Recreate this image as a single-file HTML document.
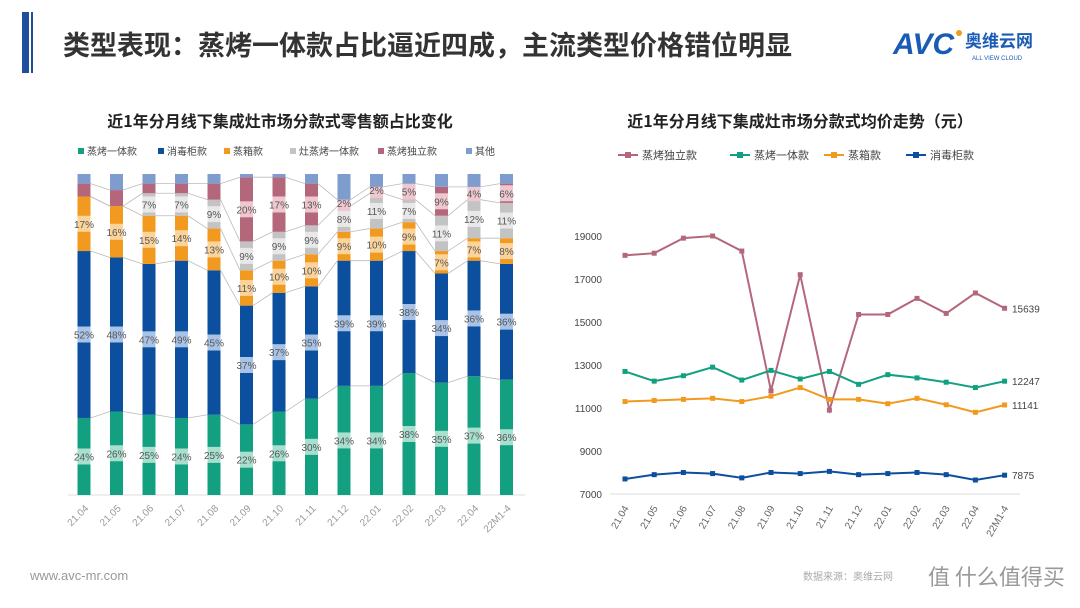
<!DOCTYPE html>
<html><head><meta charset="utf-8"><style>
body{margin:0;width:1080px;height:608px;background:#fff;overflow:hidden;font-family:"Liberation Sans","Noto Sans CJK SC",sans-serif;}
svg{position:absolute;left:0;top:0}
</style></head><body>
<svg id="s" width="1080" height="608" xmlns="http://www.w3.org/2000/svg" font-family="Liberation Sans, Noto Sans CJK SC, sans-serif"></svg>
<script>
(function(){
const s=document.getElementById('s');let h='';
h+='<rect x="22" y="12" width="7" height="61" fill="#1f4e9c"/><rect x="31" y="12" width="2" height="61" fill="#1f4e9c"/>';
h+='<text x="63" y="55" font-size="27" font-weight="bold" fill="#333" font-family="Noto Sans CJK SC, sans-serif">类型表现：蒸烤一体款占比逼近四成，主流类型价格错位明显</text>';
h+='<text x="893" y="54" font-size="30" font-weight="bold" fill="#1a5bb5" font-style="italic">AVC</text><circle cx="959" cy="33" r="3" fill="#f29a1f"/>';
h+='<text x="965" y="47" font-size="17" font-weight="bold" fill="#1a5bb5" font-family="Noto Sans CJK SC, sans-serif">奥维云网</text>';
h+='<text x="972" y="60" font-size="6" fill="#1a5bb5">ALL VIEW CLOUD</text>';
h+='<text x="30" y="580" font-size="13" fill="#999">www.avc-mr.com</text>';
h+='<text x="803" y="580" font-size="10" fill="#aaa" font-family="Noto Sans CJK SC, sans-serif">数据来源：奥维云网</text>';
h+='<text x="928" y="585" font-size="22" fill="#999" font-family="Noto Sans CJK SC, sans-serif">值 什么值得买</text>';
h+='<text x="280" y="127" font-size="16" font-weight="bold" fill="#222" text-anchor="middle" font-family="Noto Sans CJK SC, sans-serif">近1年分月线下集成灶市场分款式零售额占比变化</text>';
const cols=['#13a081','#0b4f9e','#f29a1f','#c3c3c3','#b4677a','#7f9ccf'];
const light=['#a9dfcf','#a9c3e6','#fbd49b','#e8e8e8','#eec7cf','#c7d4ee'];
const names=['蒸烤一体款','消毒柜款','蒸箱款','灶蒸烤一体款','蒸烤独立款','其他'];
let lx=78;[80,66,66,88,88,40].forEach((w,i)=>{h+=`<rect x="${lx}" y="148" width="6" height="6" fill="${cols[i]}"/><text x="${lx+9}" y="155" font-size="10" fill="#444" font-family="Noto Sans CJK SC, sans-serif">${names[i]}</text>`;lx+=w;});
const D=[[24,52,17,0,4,3],[26,48,16,0,5,5],[25,47,15,7,3,3],[24,49,14,7,3,3],[25,45,13,9,5,3],[22,37,11,9,20,1],[26,37,10,9,17,1],[30,35,10,9,13,3],[34,39,9,8,2,8],[34,39,10,11,2,4],[38,38,9,7,5,3],[35,34,7,11,9,4],[37,36,7,12,4,4],[36,36,8,11,6,3]];
const X=['21.04','21.05','21.06','21.07','21.08','21.09','21.10','21.11','21.12','22.01','22.02','22.03','22.04','22M1-4'];
const tp=174,bot=495,H=bot-tp,bw=13;
h+=`<line x1="68" y1="${bot}" x2="525" y2="${bot}" stroke="#ddd"/>`;
let prev=null;
D.forEach((d,i)=>{const cx=84+i*32.5;let y=bot;const bounds=[];
 d.forEach((v,j)=>{const hh=v/100*H;y-=hh;h+=`<rect x="${cx-bw/2}" y="${y}" width="${bw}" height="${hh}" fill="${cols[j]}"/>`;
  if(j<5&&v>=2&&!(j===4&&v<9&&i<8)){const ly=y+hh/2;h+=`<rect x="${cx-bw/2}" y="${ly-8}" width="${bw}" height="16" fill="${light[j]}"/><text x="${cx}" y="${ly+4}" font-size="10" fill="#555" text-anchor="middle">${v}%</text>`;}
  bounds.push(y);});
 if(prev){for(let k=0;k<5;k++)h+=`<line x1="${prev.x+bw/2}" y1="${prev.b[k]}" x2="${cx-bw/2}" y2="${bounds[k]}" stroke="#bbb" stroke-width="0.8"/>`;}
 prev={x:cx,b:bounds};
 h+=`<text transform="translate(${cx+5},${bot+14}) rotate(-45)" font-size="10" fill="#999" text-anchor="end">${X[i]}</text>`;
});
h+='<text x="800" y="127" font-size="16" font-weight="bold" fill="#222" text-anchor="middle" font-family="Noto Sans CJK SC, sans-serif">近1年分月线下集成灶市场分款式均价走势（元）</text>';
const lc=['#b4677a','#13a081','#f29a1f','#0b4f9e'];const ln=['蒸烤独立款','蒸烤一体款','蒸箱款','消毒柜款'];
let rx=618;[112,94,82,70].forEach((w,i)=>{h+=`<line x1="${rx}" y1="155" x2="${rx+20}" y2="155" stroke="${lc[i]}" stroke-width="2"/><rect x="${rx+7}" y="152" width="6" height="6" fill="${lc[i]}"/><text x="${rx+24}" y="159" font-size="11" fill="#444" font-family="Noto Sans CJK SC, sans-serif">${ln[i]}</text>`;rx+=w;});
const yv=v=>494-(v-7000)/2000*43;
for(let v=7000;v<=19000;v+=2000)h+=`<text x="602" y="${yv(v)+4}" font-size="10" fill="#444" text-anchor="end">${v}</text>`;
h+=`<line x1="610" y1="494" x2="1020" y2="494" stroke="#ddd"/>`;
const L=[[18100,18200,18900,19000,18300,11800,17200,10900,15350,15350,16100,15400,16350,15639],
[12700,12250,12500,12900,12300,12750,12350,12700,12100,12550,12400,12200,11950,12247],
[11300,11350,11400,11450,11300,11550,11950,11400,11400,11200,11450,11150,10800,11141],
[7700,7900,8000,7950,7750,8000,7950,8050,7900,7950,8000,7900,7650,7875]];
const xr=i=>625+i*29.2;
L.forEach((a,k)=>{h+=`<polyline fill="none" stroke="${lc[k]}" stroke-width="2" points="${a.map((v,i)=>xr(i)+','+yv(v)).join(' ')}"/>`;
 a.forEach((v,i)=>h+=`<rect x="${xr(i)-2.5}" y="${yv(v)-2.5}" width="5" height="5" fill="${lc[k]}"/>`);
 h+=`<text x="1012" y="${yv(a[13])+4}" font-size="10" fill="#444">${a[13]}</text>`;});
X.forEach((t,i)=>h+=`<text transform="translate(${xr(i)+4},${508}) rotate(-60)" font-size="10" fill="#666" text-anchor="end">${t}</text>`);
s.innerHTML=h;
})();
</script>
</body></html>
